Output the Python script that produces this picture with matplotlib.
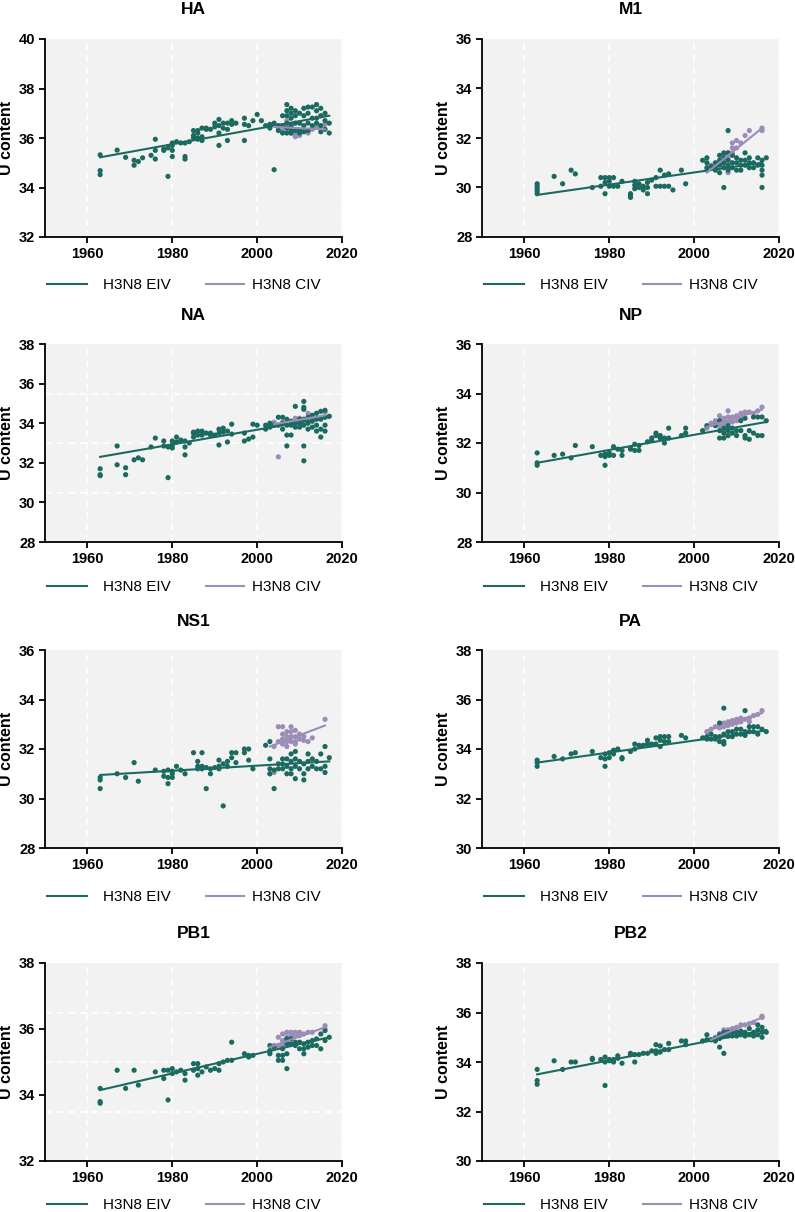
import matplotlib
matplotlib.use('Agg')
import matplotlib.pyplot as plt
from matplotlib.ticker import FixedLocator

plt.rcParams['font.family'] = ['Liberation Sans', 'DejaVu Sans']

EIV_COLOR = '#1b6a5f'
CIV_COLOR = '#9b8cb8'
LEGEND_LABELS = ['H3N8 EIV', 'H3N8 CIV']
GENES = ['HA', 'M1', 'NA', 'NP', 'NS1', 'PA', 'PB1', 'PB2']
X_TICKS = [1960, 1980, 2000, 2020]
Y_LIMITS = {'HA': (32, 40), 'M1': (28, 36), 'NA': (28, 38), 'NP': (28, 36),
            'NS1': (28, 36), 'PA': (30, 38), 'PB1': (32, 38), 'PB2': (30, 38)}

# ---- HA ----
HA_EIV = {1963: [35.32, 34.68, 34.52], 1967: [35.51], 1969: [35.22], 1971: [35.1, 34.9],
          1972: [35.05], 1973: [35.2], 1975: [35.3], 1976: [35.95, 35.5, 35.15],
          1978: [35.5, 35.55], 1979: [34.45, 35.6], 1980: [35.7, 35.5, 35.25, 35.8],
          1981: [35.85], 1982: [35.8], 1983: [35.8, 35.25, 35.15], 1984: [35.85],
          1985: [36.0, 36.3, 36.1], 1986: [36.3, 36.0, 35.95, 36.2], 1987: [36.4, 35.9, 36.05],
          1988: [36.4, 36.35], 1989: [36.35], 1990: [36.6, 36.45], 1991: [36.75, 36.5, 36.2, 35.7],
          1992: [36.6, 36.4], 1993: [36.6, 36.35, 35.9], 1994: [36.7, 36.55], 1995: [36.6],
          1997: [36.8, 36.55, 35.9], 1998: [36.5], 1999: [36.7], 2000: [36.95], 2001: [36.7],
          2002: [36.5], 2003: [36.4, 36.55], 2004: [36.6, 34.72], 2005: [36.5, 36.3],
          2006: [36.9, 36.5, 36.2], 2007: [37.35, 37.1, 36.9, 36.6, 36.4, 36.2],
          2008: [37.2, 37.0, 36.8, 36.5, 36.3, 36.2], 2009: [37.1, 36.9, 36.6, 36.3],
          2010: [37.0, 36.6, 36.3, 36.2], 2011: [37.2, 36.9, 36.5, 36.25],
          2012: [37.25, 37.0, 36.6, 36.3], 2013: [37.25, 36.8, 36.5],
          2014: [37.35, 37.1, 36.8, 36.6], 2015: [37.2, 36.9, 36.5, 36.25],
          2016: [37.0, 36.7, 36.35], 2017: [36.6, 36.2]}
HA_CIV = {2005: [36.4], 2006: [36.5, 36.3], 2007: [36.7, 36.4], 2008: [36.5, 36.2],
          2009: [36.1, 36.2, 36.05], 2010: [36.1, 36.3], 2011: [36.3], 2012: [36.2],
          2013: [36.4, 36.35], 2014: [36.45], 2015: [36.5], 2016: [36.55]}
HA_EIV_FIT = ([1963, 2017], [35.22, 36.9])
HA_CIV_FIT = ([2004, 2016], [36.45, 36.35])

# ---- M1 ----
M1_EIV = {1963: [30.15, 30.05, 29.95, 29.85, 29.75], 1967: [30.45], 1969: [30.15], 1971: [30.7],
          1972: [30.55], 1976: [30.0], 1978: [30.4, 30.05], 1979: [30.4, 29.75, 30.2],
          1980: [30.4, 30.25, 30.05], 1981: [30.4, 30.05], 1982: [30.05], 1983: [30.25],
          1985: [29.7, 29.6, 29.75], 1986: [30.25, 30.1, 29.95], 1987: [30.0, 30.15],
          1988: [30.05, 29.9], 1989: [30.2, 29.75, 30.0], 1990: [30.3], 1991: [30.4, 30.05],
          1992: [30.7, 30.05], 1993: [30.5, 30.05], 1994: [30.55, 30.05], 1995: [29.9],
          1997: [30.7], 1998: [30.15], 2002: [31.1], 2003: [31.2, 31.0, 30.8], 2004: [30.85],
          2005: [31.0, 30.8, 30.7], 2006: [31.3, 31.1, 30.9, 30.6],
          2007: [31.4, 31.2, 31.0, 30.8, 30.0], 2008: [32.3, 31.4, 31.1, 30.9, 30.7],
          2009: [31.3, 31.0, 30.8], 2010: [31.2, 31.0, 30.7], 2011: [31.1, 30.9, 30.7],
          2012: [31.4, 31.1, 30.9], 2013: [31.2, 31.0, 30.8], 2014: [31.0, 30.8],
          2015: [31.2, 30.9], 2016: [31.1, 30.9, 30.7, 30.5, 30.0], 2017: [31.2]}
M1_CIV = {2003: [30.7], 2004: [30.9], 2005: [30.85], 2006: [31.0], 2007: [31.3, 31.0],
          2008: [31.4, 31.2, 30.6], 2009: [31.8, 31.6, 31.4], 2010: [31.6, 31.9], 2011: [31.8],
          2012: [32.1], 2013: [32.3], 2016: [32.4, 32.3]}
M1_EIV_FIT = ([1963, 2016], [29.7, 31.0])
M1_CIV_FIT = ([2003, 2016], [30.6, 32.4])

# ---- NA ----
NA_EIV = {1963: [31.7, 31.4, 31.35], 1967: [32.85, 31.9], 1969: [31.75, 31.4], 1971: [32.15],
          1972: [32.25], 1973: [32.15], 1975: [32.8], 1976: [33.25], 1978: [33.1, 32.85],
          1979: [31.25, 32.8], 1980: [33.1, 32.75, 32.9], 1981: [33.3, 33.05], 1982: [33.15],
          1983: [33.1, 32.8, 32.4], 1984: [33.0], 1985: [33.5, 33.3, 33.55], 1986: [33.6, 33.4],
          1987: [33.6, 33.4], 1988: [33.5], 1989: [33.5, 33.4], 1990: [33.4],
          1991: [33.7, 33.5, 32.9], 1992: [33.75, 33.55], 1993: [33.6, 33.05], 1994: [33.95, 33.45],
          1997: [33.5, 33.1], 1998: [33.2], 1999: [33.95, 33.3], 2000: [33.9], 2002: [33.9, 33.7],
          2003: [34.0, 33.8], 2004: [33.9], 2005: [34.3, 33.9], 2006: [34.3, 34.0, 33.7],
          2007: [34.2, 33.9, 33.4, 32.85], 2008: [34.1, 33.9, 33.4], 2009: [34.85, 34.0, 33.8],
          2010: [34.2, 34.0, 33.8], 2011: [35.1, 34.8, 34.7, 34.2, 33.9, 32.85, 32.1],
          2012: [34.3, 34.0, 33.7], 2013: [34.4, 34.1, 33.8], 2014: [34.5, 34.2, 33.9, 33.6],
          2015: [34.6, 34.2, 33.7, 33.3], 2016: [34.65, 34.3, 33.9, 33.6], 2017: [34.35]}
NA_CIV = {2004: [34.05], 2005: [32.3], 2006: [34.05], 2009: [34.25], 2010: [34.25],
          2012: [34.5], 2013: [34.3], 2016: [34.55]}
NA_EIV_FIT = ([1963, 2017], [32.3, 34.3])
NA_CIV_FIT = ([2004, 2016], [33.95, 34.4])

# ---- NP ----
NP_EIV = {1963: [31.6, 31.2, 31.1], 1967: [31.5], 1969: [31.55], 1971: [31.4], 1972: [31.9],
          1976: [31.85], 1978: [31.5], 1979: [31.55, 31.1, 31.45], 1980: [31.6, 31.5],
          1981: [31.85, 31.5], 1982: [31.75], 1983: [31.7, 31.5], 1985: [31.8, 31.75],
          1986: [31.95, 31.7], 1987: [31.7, 31.9], 1989: [32.05], 1990: [32.2, 32.1],
          1991: [32.4, 32.3], 1992: [32.3, 32.2], 1993: [32.2, 32.0], 1994: [32.6, 32.2],
          1997: [32.3], 1998: [32.6, 32.4], 2002: [32.5], 2003: [32.7], 2005: [32.7],
          2006: [32.9, 32.5, 32.2], 2007: [32.6, 32.4, 32.2], 2008: [32.7, 32.5, 32.3],
          2009: [32.6, 32.4], 2010: [32.5, 32.3], 2011: [32.9, 32.5], 2012: [33.0, 32.3, 32.2],
          2013: [32.5, 32.15], 2014: [33.05, 32.4], 2015: [33.05, 32.3], 2016: [33.05, 32.3],
          2017: [32.9]}
NP_CIV = {2003: [32.6], 2004: [32.8, 32.75], 2005: [32.9, 32.8], 2006: [33.1, 32.9, 32.7],
          2007: [33.0, 32.8, 32.6], 2008: [33.3, 33.05, 32.85], 2009: [33.05, 32.85],
          2010: [33.1, 32.9], 2011: [33.2, 33.0], 2012: [33.25], 2013: [33.25], 2014: [33.2],
          2015: [33.3], 2016: [33.45]}
NP_EIV_FIT = ([1963, 2017], [31.2, 32.85])
NP_CIV_FIT = ([2003, 2016], [32.65, 33.35])

# ---- NS1 ----
NS1_EIV = {1963: [30.85, 30.75, 30.4], 1967: [31.0], 1969: [30.85], 1971: [31.45], 1972: [30.7],
           1976: [31.15], 1978: [31.1, 30.9], 1979: [31.15, 30.85, 30.6], 1980: [31.1, 31.0, 30.85],
           1981: [31.3], 1982: [31.15], 1983: [31.0], 1985: [31.85], 1986: [31.5, 31.3, 31.2],
           1987: [31.85, 31.3, 31.2], 1988: [31.25, 30.4], 1989: [31.2, 31.0], 1990: [31.25],
           1991: [31.55, 31.3, 31.2], 1992: [31.4, 29.7], 1993: [31.5, 31.3], 1994: [31.85, 31.65],
           1995: [31.85, 31.45], 1997: [32.0, 31.85], 1998: [32.0, 31.55], 1999: [31.2],
           2002: [32.15], 2003: [32.3, 31.6, 31.2, 31.0], 2004: [31.15, 30.4], 2005: [31.4, 31.2],
           2006: [31.6, 31.4, 31.2], 2007: [31.6, 31.3, 31.0], 2008: [31.8, 31.5, 31.2, 31.0],
           2009: [31.9, 31.6, 31.3, 30.8], 2010: [31.5, 31.2], 2011: [31.4, 31.0, 30.75],
           2012: [31.8, 31.5, 31.2], 2013: [31.6, 31.3], 2014: [31.5, 31.2], 2015: [31.8, 31.2],
           2016: [32.1, 31.3, 31.05], 2017: [31.65]}
NS1_CIV = {2003: [31.0], 2004: [31.05, 32.1], 2005: [32.9, 32.3], 2006: [32.9, 32.6, 32.4, 32.2],
           2007: [32.7, 32.5, 32.3, 32.1], 2008: [32.9, 32.7, 32.5, 32.3],
           2009: [32.75, 32.5, 32.3, 32.2], 2010: [32.6, 32.4], 2011: [32.5, 32.35], 2012: [32.3],
           2013: [32.45], 2016: [33.2]}
NS1_EIV_FIT = ([1963, 2017], [30.95, 31.5])
NS1_CIV_FIT = ([2003, 2016], [32.1, 32.95])

# ---- PA ----
PA_EIV = {1963: [33.55, 33.45, 33.3], 1967: [33.7], 1969: [33.6], 1971: [33.8], 1972: [33.85],
          1976: [33.9], 1978: [33.65], 1979: [33.6, 33.3, 33.8], 1980: [33.65, 33.85],
          1981: [33.95, 33.8], 1982: [34.0], 1983: [33.65, 33.6], 1985: [33.9], 1986: [34.2, 34.0],
          1987: [34.15], 1988: [34.15], 1989: [34.35, 34.2], 1990: [34.2], 1991: [34.45, 34.2],
          1992: [34.5, 34.35, 34.1], 1993: [34.5, 34.3], 1994: [34.5, 34.3], 1997: [34.55],
          1998: [34.45], 2002: [34.45], 2003: [34.5, 34.4], 2004: [34.6, 34.4], 2005: [34.5, 34.4],
          2006: [35.05, 34.5, 34.3], 2007: [35.65, 34.6, 34.3, 34.2], 2008: [34.7, 34.5],
          2009: [34.7, 34.5], 2010: [34.8, 34.6], 2011: [34.8, 34.6], 2012: [35.55, 34.7, 34.55],
          2013: [34.9, 34.7], 2014: [34.9, 34.7], 2015: [34.9, 34.6], 2016: [34.8], 2017: [34.7]}
PA_CIV = {2003: [34.7], 2004: [34.8], 2005: [34.9], 2006: [35.0, 34.85], 2007: [35.05, 34.9],
          2008: [35.1, 34.95], 2009: [35.15, 35.0], 2010: [35.2, 35.05], 2011: [35.25, 35.1],
          2012: [35.2], 2013: [35.25, 35.1], 2014: [35.35], 2015: [35.4], 2016: [35.55]}
PA_EIV_FIT = ([1963, 2017], [33.45, 34.75])
PA_CIV_FIT = ([2003, 2016], [34.75, 35.45])

# ---- PB1 ----
PB1_EIV = {1963: [34.2, 33.8, 33.75], 1967: [34.75], 1969: [34.2], 1971: [34.75], 1972: [34.3],
           1976: [34.7], 1978: [34.75, 34.5], 1979: [33.85, 34.75], 1980: [34.8, 34.65],
           1981: [34.7], 1982: [34.75], 1983: [34.65, 34.45], 1985: [34.95, 34.75],
           1986: [34.95, 34.8, 34.6], 1987: [34.7], 1988: [34.85], 1989: [34.75], 1990: [34.8],
           1991: [34.95, 34.75], 1992: [35.0], 1993: [35.05], 1994: [35.6, 35.05], 1997: [35.25],
           1998: [35.2, 35.15], 1999: [35.2], 2003: [35.5, 35.35, 35.25], 2004: [35.45],
           2005: [35.2, 35.05], 2006: [35.4, 35.2, 35.05], 2007: [35.7, 35.55, 35.25, 34.8],
           2008: [35.7, 35.55], 2009: [35.6, 35.5], 2010: [35.6, 35.4], 2011: [35.55, 35.4, 35.25],
           2012: [35.6, 35.45], 2013: [35.65, 35.5], 2014: [35.7, 35.5], 2015: [35.85, 35.4],
           2016: [35.95, 35.65], 2017: [35.75]}
PB1_CIV = {2003: [35.3], 2004: [35.5], 2005: [35.75, 35.5], 2006: [35.85, 35.65, 35.5],
           2007: [35.9, 35.75, 35.6], 2008: [35.9, 35.8], 2009: [35.9, 35.8], 2010: [35.9, 35.8],
           2011: [35.85], 2012: [35.9], 2013: [35.9], 2016: [36.1, 36.0]}
PB1_EIV_FIT = ([1963, 2017], [34.15, 35.75])
PB1_CIV_FIT = ([2003, 2016], [35.45, 36.05])

# ---- PB2 ----
PB2_EIV = {1963: [33.7, 33.25, 33.1], 1967: [34.05], 1969: [33.7], 1971: [34.0], 1972: [34.0],
           1976: [34.15, 34.1], 1978: [34.1], 1979: [34.2, 34.0, 33.05], 1980: [34.1, 34.05],
           1981: [34.1, 34.0], 1982: [34.25, 34.15], 1983: [33.95], 1985: [34.35, 34.3],
           1986: [34.3, 34.0], 1987: [34.3], 1988: [34.35], 1989: [34.35], 1990: [34.45],
           1991: [34.7, 34.45, 34.35], 1992: [34.65, 34.4], 1993: [34.5], 1994: [34.75, 34.5],
           1997: [34.85], 1998: [34.85, 34.7], 2002: [34.85], 2003: [35.1, 34.9], 2004: [34.9],
           2005: [34.95, 34.85], 2006: [35.1, 34.95, 34.6], 2007: [35.2, 35.05, 34.35],
           2008: [35.2, 35.05], 2009: [35.2, 35.05], 2010: [35.2, 35.05], 2011: [35.25, 35.1],
           2012: [35.2, 35.05], 2013: [35.35, 35.1], 2014: [35.2, 35.05], 2015: [35.5, 35.3, 35.1],
           2016: [35.4, 35.2, 35.0], 2017: [35.2]}
PB2_CIV = {2004: [34.9], 2005: [35.0], 2006: [35.15], 2007: [35.3, 35.1], 2008: [35.3],
           2009: [35.35], 2010: [35.4], 2011: [35.5], 2012: [35.5], 2013: [35.55], 2014: [35.6],
           2016: [35.85, 35.8]}
PB2_EIV_FIT = ([1963, 2017], [33.5, 35.3])
PB2_CIV_FIT = ([2004, 2016], [34.9, 35.8])

PANELS = {
    'HA': (HA_EIV, HA_CIV, HA_EIV_FIT, HA_CIV_FIT),
    'M1': (M1_EIV, M1_CIV, M1_EIV_FIT, M1_CIV_FIT),
    'NA': (NA_EIV, NA_CIV, NA_EIV_FIT, NA_CIV_FIT),
    'NP': (NP_EIV, NP_CIV, NP_EIV_FIT, NP_CIV_FIT),
    'NS1': (NS1_EIV, NS1_CIV, NS1_EIV_FIT, NS1_CIV_FIT),
    'PA': (PA_EIV, PA_CIV, PA_EIV_FIT, PA_CIV_FIT),
    'PB1': (PB1_EIV, PB1_CIV, PB1_EIV_FIT, PB1_CIV_FIT),
    'PB2': (PB2_EIV, PB2_CIV, PB2_EIV_FIT, PB2_CIV_FIT),
}


def expand(d):
    xs, ys = [], []
    for yr, vals in d.items():
        for v in vals:
            xs.append(yr)
            ys.append(v)
    return xs, ys


W, H = 795, 1212
fig = plt.figure(figsize=(W / 100, H / 100), dpi=100)
fig.patch.set_facecolor('white')

COL_LEFT = [45, 482]
ROW_TOP = [39, 344, 650, 963]
AX_W, AX_H = 297, 198
LEG_OFF = [48, 45, 49, 44]

for i, gene in enumerate(GENES):
    r, c = divmod(i, 2)
    left, top = COL_LEFT[c], ROW_TOP[r]
    ax = fig.add_axes([left / W, 1 - (top + AX_H) / H, AX_W / W, AX_H / H])
    ax.set_facecolor('#f2f2f2')
    eiv, civ, efit, cfit = PANELS[gene]
    lo, hi = Y_LIMITS[gene]

    ex, ey = expand(eiv)
    cx, cy = expand(civ)
    ax.scatter(cx, cy, s=14, color=CIV_COLOR, edgecolors='none', zorder=2)
    ax.scatter(ex, ey, s=14, color=EIV_COLOR, edgecolors='none', zorder=3)
    le, = ax.plot(efit[0], efit[1], color=EIV_COLOR, lw=1.5, zorder=4)
    lc, = ax.plot(cfit[0], cfit[1], color=CIV_COLOR, lw=1.5, zorder=5)

    ax.set_xlim(1950, 2020)
    ax.set_ylim(lo, hi)
    ax.set_xticks(X_TICKS)
    ax.set_yticks(list(range(lo, hi + 1, 2)))
    ax.yaxis.set_minor_locator(FixedLocator([lo + k * (hi - lo) / 4 for k in (1, 2, 3)]))
    ax.set_axisbelow(True)
    ax.grid(which='major', axis='x', color='white', ls=(0, (4, 3)), lw=1.2)
    ax.grid(which='minor', axis='y', color='white', ls=(0, (4, 3)), lw=1.2)
    ax.tick_params(which='minor', length=0)
    ax.tick_params(which='major', direction='out', length=4, width=1.3, color='black',
                   labelsize=10.5, pad=3)
    for lab in ax.get_xticklabels() + ax.get_yticklabels():
        lab.set_fontweight('bold')
    for s in ('top', 'right'):
        ax.spines[s].set_visible(False)
    for s in ('left', 'bottom'):
        ax.spines[s].set_linewidth(1.3)
        ax.spines[s].set_color('black')

    ax.set_ylabel('U content', fontsize=11.5, fontweight='bold')
    ax.yaxis.set_label_coords(-31 / AX_W, 0.5)
    ax.text(0.5, 1 + 29 / AX_H, gene, transform=ax.transAxes, ha='center', va='center',
            fontsize=12.5, fontweight='bold')

    ly = -LEG_OFF[r] / AX_H
    leg1 = ax.legend([le], [LEGEND_LABELS[0]], loc='center left', bbox_to_anchor=(2 / AX_W, ly),
                     frameon=False, handlelength=2.6, handletextpad=1.05, borderpad=0,
                     borderaxespad=0, fontsize=11)
    ax.add_artist(leg1)
    ax.legend([lc], [LEGEND_LABELS[1]], loc='center left', bbox_to_anchor=(161 / AX_W, ly),
              frameon=False, handlelength=2.5, handletextpad=0.5, borderpad=0,
              borderaxespad=0, fontsize=11)

fig.savefig('out.png', dpi=100)
